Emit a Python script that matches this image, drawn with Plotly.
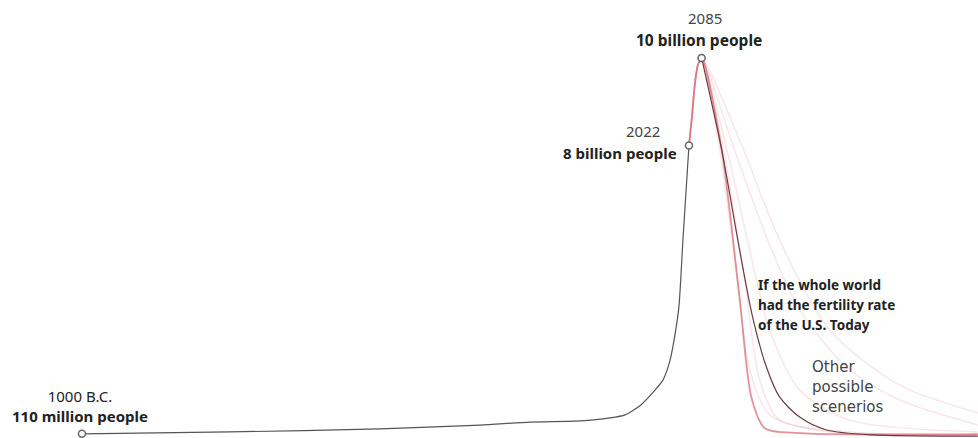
import plotly.graph_objects as go

# Historical population (years, billions)
hist_years = [-1000, -263, 484, 982, 1231, 1480, 1629, 1704, 1778, 1853, 1893, 1928, 1948, 1972, 1992, 2022]
hist_pop = [0.11, 0.16, 0.24, 0.34, 0.42, 0.45, 0.53, 0.61, 0.85, 1.26, 1.53, 2.05, 2.58, 3.45, 5.21, 7.7]

# Projection up to the peak (shared by all scenarios)
rise_years = [2022, 2037, 2052, 2067, 2085]
rise_pop = [7.7, 8.45, 9.34, 9.82, 10.0]

# Decline scenarios after the peak (years, billions)
scen_faint = [
    ([2085, 2185, 2274, 2334, 2399, 2573, 3460], [10.0, 7.58, 3.68, 1.0, 0.26, 0.13, 0.10]),
    ([2085, 2224, 2324, 2424, 2573, 2822, 3460], [10.0, 7.3, 4.95, 2.84, 1.26, 0.47, 0.16]),
    ([2085, 2249, 2408, 2573, 2822, 3071, 3460], [10.0, 7.58, 5.29, 3.37, 1.79, 1.0, 0.34]),
    ([2085, 2274, 2473, 2722, 3071, 3460], [10.0, 7.84, 5.21, 2.84, 1.39, 0.66]),
    ([2085, 2199, 2299, 2374, 2473, 2822, 3460], [10.0, 7.45, 4.16, 1.53, 0.47, 0.16, 0.08]),
    ([2085, 2175, 2264, 2324, 2424, 2722, 3460], [10.0, 7.58, 4.16, 1.79, 0.61, 0.16, 0.08]),
]
bright_years = [2085, 2185, 2274, 2334, 2399, 2573, 3460]
bright_pop = [10.0, 7.58, 3.68, 1.05, 0.26, 0.13, 0.10]
us_years = [2085, 2185, 2274, 2339, 2408, 2473, 2573, 2707, 2936, 3460]
us_pop = [10.0, 7.58, 4.95, 3.18, 1.86, 1.08, 0.55, 0.21, 0.08, 0.05]

marker_years = [-1000, 2022, 2085]
marker_pop = [0.11, 7.7, 10.0]

fig = go.Figure()

for ys, ps in scen_faint:
    fig.add_trace(go.Scatter(x=rise_years + ys[1:], y=rise_pop + ps[1:], mode="lines",
                             line=dict(color="rgba(225,140,150,0.22)", width=1.5, shape="spline", smoothing=0.8),
                             hoverinfo="skip"))

fig.add_trace(go.Scatter(x=rise_years + bright_years[1:], y=rise_pop + bright_pop[1:], mode="lines",
                         line=dict(color="rgba(215,90,100,0.6)", width=1.8, shape="spline", smoothing=0.8),
                         hoverinfo="skip"))

fig.add_trace(go.Scatter(x=us_years, y=us_pop, mode="lines",
                         line=dict(color="#6a3a44", width=1.2, shape="spline", smoothing=0.8),
                         hoverinfo="skip"))

fig.add_trace(go.Scatter(x=hist_years, y=hist_pop, mode="lines",
                         line=dict(color="#555555", width=1.2, shape="spline", smoothing=0.6),
                         hoverinfo="skip"))

fig.add_trace(go.Scatter(x=marker_years, y=marker_pop, mode="markers",
                         marker=dict(size=7, color="white", line=dict(color="#666666", width=1.5)),
                         cliponaxis=False, hoverinfo="skip"))

font_main = "Noto Sans, Open Sans, sans-serif"


def px_anno(text, xpx, ypx, size, color, family, xanchor="center"):
    fig.add_annotation(xref="paper", yref="paper", x=xpx / 978, y=1 - ypx / 438,
                       text=text, showarrow=False, xanchor=xanchor, yanchor="middle", align="left",
                       font=dict(family=family, size=size, color=color))


px_anno("2085", 705, 18, 15, "#444444", font_main)
px_anno("<b>10 billion people</b>", 699, 40, 15.5, "#222222", font_main)
px_anno("2022", 643, 131, 15, "#444444", font_main)
px_anno("<b>8 billion people</b>", 620, 153, 15, "#222222", font_main)
fig.add_annotation(xref="paper", yref="paper", x=80 / 978, y=1 - 406 / 438,
                   text="1000 B.C.<br><b>110 million people</b>", showarrow=False,
                   xanchor="center", yanchor="middle", align="center",
                   font=dict(family=font_main, size=15, color="#222222"))

for i, line in enumerate(["If the whole world", "had the fertility rate", "of the U.S. Today"]):
    px_anno("<b>%s</b>" % line, 756, 285 + 20 * i, 13.5, "#222222", font_main, xanchor="left")

for i, line in enumerate(["Other", "possible", "scenerios"]):
    px_anno(line, 810, 367 + 20 * i, 15, "#444444", "DejaVu Sans, Verdana, sans-serif", xanchor="left")

fig.update_layout(
    width=978, height=438,
    margin=dict(l=0, r=0, t=0, b=0),
    paper_bgcolor="white", plot_bgcolor="white",
    showlegend=False,
    xaxis=dict(range=[-1408, 3461], visible=False, fixedrange=True),
    yaxis=dict(range=[0, 11.526], visible=False, fixedrange=True),
)

fig.write_html("out.html", config={"displayModeBar": False},
               post_script="document.body.style.margin='0';")
